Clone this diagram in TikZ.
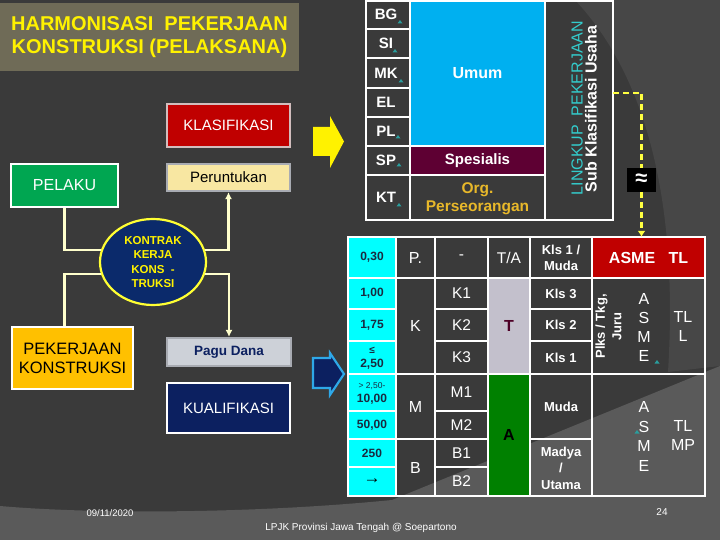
\documentclass[tikz,border=0pt]{standalone}
\usepackage{fontspec}
\setmainfont{Liberation Sans}
\usetikzlibrary{arrows.meta,shapes.geometric}

\definecolor{slidebg}{HTML}{3A3A3A}
\definecolor{slidearc}{HTML}{474747}
\definecolor{slidefoot}{HTML}{5A5A5A}
\definecolor{titlebg}{HTML}{6F6B57}
\definecolor{klasred}{HTML}{C00000}
\definecolor{klasrim}{HTML}{D2BDBD}
\definecolor{peruntbg}{HTML}{F8E7A2}
\definecolor{greyrim}{HTML}{A8ABB2}
\definecolor{pelakugreen}{HTML}{00A651}
\definecolor{kontraknavy}{HTML}{0B2A6B}
\definecolor{kontrakrim}{HTML}{FFFF33}
\definecolor{pekerjaanbg}{HTML}{FFC000}
\definecolor{pagubg}{HTML}{CDD1D8}
\definecolor{navy}{HTML}{0C2060}
\definecolor{skyrim}{HTML}{2EA8E8}
\definecolor{connline}{HTML}{FFFFCC}
\definecolor{umumblue}{HTML}{00B0F0}
\definecolor{spesmaroon}{HTML}{5E0033}
\definecolor{orggold}{HTML}{E8B82A}
\definecolor{lingkupcyan}{HTML}{33CCCC}
\definecolor{linkteal}{HTML}{2A9D9D}
\definecolor{cyancell}{HTML}{00FFFF}
\definecolor{cyantext}{HTML}{1A2A40}
\definecolor{tcell}{HTML}{C3C0CC}
\definecolor{ttext}{HTML}{4D0026}
\definecolor{acell}{HTML}{008000}
\definecolor{dashyellow}{HTML}{FFFF40}

\def\fsz#1#2{\fontsize{#1}{#2}\selectfont}
\def\linkmark(#1,#2){\fill[linkteal,shift={(#1,#2)}] (-2.5,1.5) -- (0,-2) -- (2.5,1.5) -- cycle;}

\tikzset{
  panel/.style={draw, line width=2.2pt, inner sep=0pt, align=center},
  conn/.style={draw=connline, line width=2.2pt},
  connarrow/.style={conn, -{Latex[length=7pt,width=7pt]}},
  cell/.style={text=white, inner sep=0pt, align=center, font=\fsz{15.5}{18}},
  boldcell/.style={text=white, inner sep=0pt, align=center, font=\fsz{13}{16.5}\bfseries},
  codelbl/.style={text=white, inner sep=0pt, font=\fsz{15}{18}\bfseries},
  numcell/.style={text=cyantext, inner sep=0pt, align=center, font=\fsz{12}{14}\bfseries},
  tbl/.style={white, line width=1.5pt},
  dashlink/.style={dashyellow, line width=2.2pt, dash pattern=on 6pt off 4pt}
}

\begin{document}
\begin{tikzpicture}[x=1pt,y=-1pt]
		%%%%% START %%%%%
		\useasboundingbox (0,0) rectangle (720,540);
		
		% slide background
		\fill[slidebg] (0,0) rectangle (720,540);
		\fill[slidearc] (575,0) .. controls (650,80) and (678,210) .. (668,372) -- (720,366) -- (720,0) -- cycle;
		\fill[slidefoot] (0,506) .. controls (90,514) and (250,514) .. (392,500) -- (720,366) -- (720,540) -- (0,540) -- cycle;
		
		\node[fill=titlebg, minimum width=299pt, minimum height=68pt, inner sep=0pt, text=yellow, align=center, font=\fsz{20}{23}\bfseries] (title) at (149.5,37) {HARMONISASI\ \ PEKERJAAN\\KONSTRUKSI (PELAKSANA)};
		
		% left side
		\node[panel, draw=klasrim, fill=klasred, minimum width=123pt, minimum height=43pt, text=white, font=\fsz{15}{18}] (klas) at (228.5,125.5) {KLASIFIKASI};
		\node[panel, draw=greyrim, fill=peruntbg, minimum width=123pt, minimum height=27pt, text=black, font=\fsz{15}{18}] (perunt) at (228.5,177.5) {Peruntukan};
		\node[panel, draw=white, fill=pelakugreen, minimum width=107pt, minimum height=43pt, text=white, font=\fsz{16}{18}] (pelaku) at (64.5,185.5) {PELAKU};
		\node[ellipse, draw=kontrakrim, fill=kontraknavy, line width=2.2pt, minimum width=106pt, minimum height=86pt, inner sep=0pt, text=yellow, align=center, font=\fsz{11.5}{14.5}\bfseries] (kontrak) at (153,262) {KONTRAK\\KERJA\\KONS\ \ -\\TRUKSI};
		\node[panel, draw=white, fill=pekerjaanbg, minimum width=121pt, minimum height=62pt, text=black, font=\fsz{16.5}{19}] (pekerjaan) at (72.5,358) {PEKERJAAN\\KONSTRUKSI};
		\node[panel, draw=greyrim, fill=pagubg, minimum width=124pt, minimum height=28pt, text=navy, font=\fsz{13.5}{16}\bfseries] (pagu) at (229,352) {Pagu Dana};
		\node[panel, draw=white, fill=navy, minimum width=123pt, minimum height=50pt, text=white, font=\fsz{15}{18}] (kualif) at (228.5,408) {KUALIFIKASI};
		
		\draw[conn] (pelaku.south) |- (kontrak.167);
		\draw[conn] (kontrak.193) -| (pelaku.south |- pekerjaan.north);
		\draw[connarrow] (kontrak.13) -| (perunt.south);
		\draw[connarrow] (kontrak.-13) -| (pagu.north);
		
		% big arrows
		\fill[yellow] (313,127) -- (330,127) -- (330,116) -- (344,141.5) -- (330,168) -- (330,156) -- (313,156) -- cycle;
		\filldraw[fill=navy, draw=skyrim, line width=2.2pt] (313,358) -- (330,358) -- (330,353) -- (344,374) -- (330,395) -- (330,388) -- (313,388) -- cycle;
		
		% top table
		\node[fill=umumblue, minimum width=135pt, minimum height=145pt, inner sep=0pt, text=white, font=\fsz{16}{18}\bfseries] (umum) at (477.5,73.5) {Umum};
		\node[fill=spesmaroon, minimum width=135pt, minimum height=29pt, inner sep=0pt, text=white, font=\fsz{15}{18}\bfseries] (spes) at (477.5,160.5) {Spesialis};
		\node[text=orggold, align=center, inner sep=0pt, font=\fsz{15.5}{18}\bfseries] (org) at (477.5,199) {Org.\\Perseorangan};
		
		\foreach \lab/\yy in {BG/14.5, SI/43.5, MK/73, EL/102, PL/131.5, SP/160.5, KT/197.5}
			\node[codelbl] (code\lab) at (386,\yy) {\lab};
		\linkmark(400,22) \linkmark(395,51) \linkmark(401,81)
		\linkmark(398,137) \linkmark(399,165) \linkmark(399,205)
		
		\draw[tbl] (366,1) rectangle (613,220);
		\draw[tbl] (410,1) -- (410,220) (545,1) -- (545,220);
		\foreach \yy in {29,58,88,117}
			\draw[tbl] (366,\yy) -- (410,\yy);
		\draw[tbl] (366,146) -- (545,146) (366,175) -- (545,175);
		
		\node[rotate=90, text=lingkupcyan, inner sep=0pt, font=\fsz{16}{18}] (lingkup) at (577,108) {LINGKUP\ \ PEKERJAAN};
		\node[rotate=90, text=white, inner sep=0pt, font=\fsz{16}{18}\bfseries] (subklas) at (591,109) {Sub Klasifikasi Usaha};
		
		% bottom table
		\fill[cyancell] (348,237) rectangle (396,496);
		\fill[tcell] (488,278) rectangle (530,374);
		\fill[acell] (488,374) rectangle (530,496);
		\node[fill=klasred, minimum width=113pt, minimum height=41pt, inner sep=0pt, text=white, font=\fsz{16}{18}\bfseries] (asmetl) at (648.5,257.5) {ASME~~~TL};
		
		\draw[tbl] (348,237) rectangle (705,496);
		\foreach \xx in {396,435,488,530,592}
			\draw[tbl] (\xx,237) -- (\xx,496);
		\draw[tbl] (348,278) -- (705,278) (348,374) -- (705,374);
		\foreach \yy in {309,341}
			\draw[tbl] (348,\yy) -- (396,\yy) (435,\yy) -- (488,\yy) (530,\yy) -- (592,\yy);
		\foreach \yy in {411,467}
			\draw[tbl] (348,\yy) -- (396,\yy) (435,\yy) -- (488,\yy);
		\draw[tbl] (348,439) -- (488,439) (530,439) -- (592,439);
		
		% dashed link
		\coordinate (lkright) at (613,93);
		\node[fill=black, minimum width=29pt, minimum height=24pt, inner sep=0pt, text=white, font=\fsz{22}{22}\bfseries] (approx) at (641.5,180) {≈};
		\draw[dashlink] (lkright) -| (approx.north);
		\draw[dashlink, -{Latex[length=6pt,width=8pt]}] (approx.south) -- (approx.south |- asmetl.north);
		
		\node[numcell] (n030) at (372,257.5) {0,30};
		\node[numcell] (n100) at (372,293.5) {1,00};
		\node[numcell] (n175) at (372,325) {1,75};
		\node[numcell] (n250) at (372,358) {{\fsz{10}{12}≤}\\2,50};
		\node[numcell] (n1000) at (372,393) {{\fsz{8.5}{10}\mdseries >\ 2,50-}\\10,00};
		\node[numcell] (n5000) at (372,425) {50,00};
		\node[numcell] (n250b) at (372,453) {250};
		\node[numcell, text=black, font=\fsz{17}{18}\bfseries] (narrow) at (372,481.5) {→};
		
		\node[cell, font=\fsz{16}{18}] (pcol) at (415.5,257.5) {P.};
		\node[cell, font=\fsz{16}{18}] (kcol) at (415.5,326) {K};
		\node[cell, font=\fsz{16}{18}] (mcol) at (415.5,406.5) {M};
		\node[cell, font=\fsz{16}{18}] (bcol) at (415.5,467.5) {B};
		
		\foreach \lab/\yy in {-/257.5, K1/293.5, K2/325, K3/357.5, M1/392.5, M2/425, B1/453, B2/481.5}
			\node[cell] (sub\lab) at (461.5,\yy) {\lab};
		
		\node[cell] (tahead) at (509,257.5) {T/A};
		\node[cell, text=ttext, font=\fsz{16}{18}\bfseries] (tval) at (509,326) {T};
		\node[cell, text=black, font=\fsz{16}{18}\bfseries] (aval) at (509,435) {A};
		
		\node[boldcell] (kls1muda) at (561,258) {Kls 1 /\\Muda};
		\node[boldcell] (kls3) at (561,293.5) {Kls 3};
		\node[boldcell] (kls2) at (561,325) {Kls 2};
		\node[boldcell] (kls1) at (561,357.5) {Kls 1};
		\node[boldcell] (muda) at (561,406.5) {Muda};
		\node[boldcell] (madya) at (561,468) {Madya\\/\\Utama};
		
		\node[rotate=90, boldcell] (plks) at (608.5,326.5) {Plks / Tkg,\\Juru};
		\node[cell, font=\fsz{16}{19}] (asmeup) at (644,327) {A\\S\\M\\E};
		\node[cell, font=\fsz{16}{19}] (tlup) at (683,326.5) {TL\\L};
		\node[cell, font=\fsz{16}{19.5}] (asmelow) at (644,436.5) {A\\S\\M\\E};
		\node[cell, font=\fsz{16}{19}] (tllow) at (683,435.5) {TL\\MP};
		\linkmark(657,362) \linkmark(637,432)
		
		% footer
		\node[text=white, inner sep=0pt, font=\fsz{9.5}{11}] (datefoot) at (110,513) {09/11/2020};
		\node[text=white, inner sep=0pt, font=\fsz{10}{12}] (credit) at (361,528) {LPJK Provinsi Jawa Tengah @ Soepartono};
		\node[text=white, inner sep=0pt, font=\fsz{10}{12}] (pagenum) at (662,512) {24};
		
		%%%%% END %%%%%
\end{tikzpicture}
\end{document}
